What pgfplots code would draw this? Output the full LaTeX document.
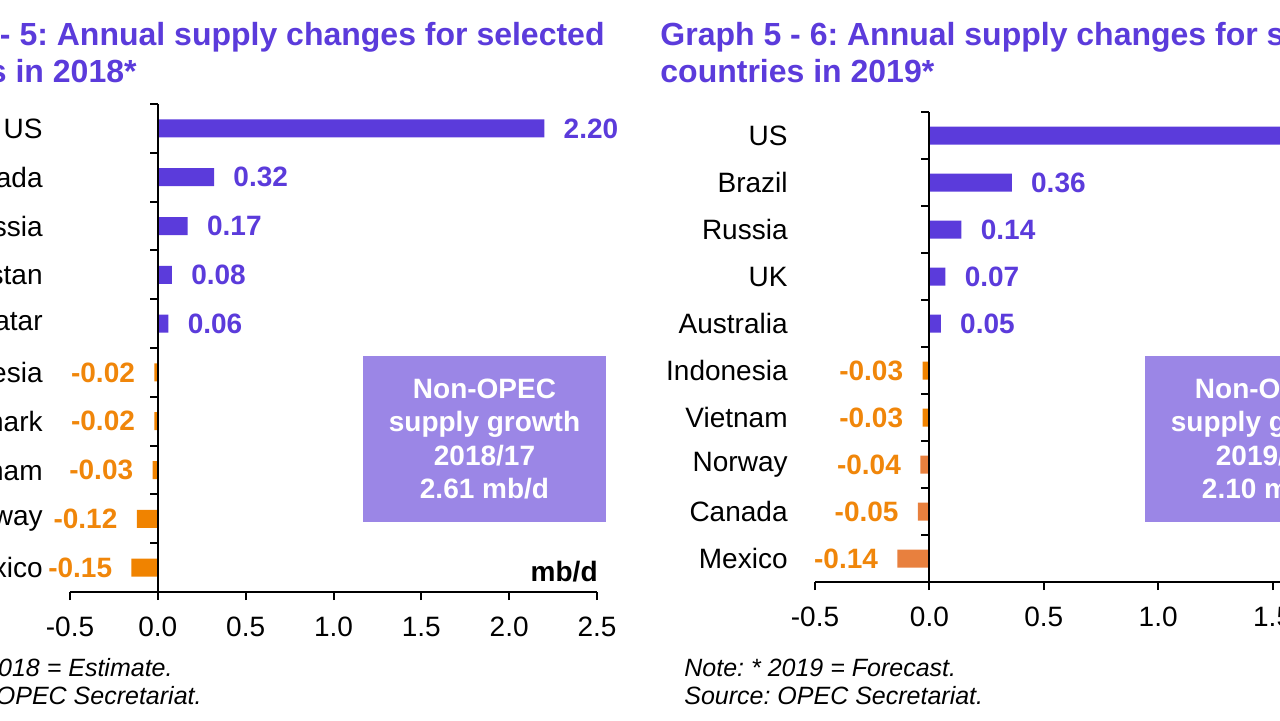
\documentclass[border=0pt]{standalone}
\usepackage{pgfplots}
\pgfplotsset{compat=1.18}
\usepackage{fontspec}
\setmainfont{Liberation Sans}
\frenchspacing
\definecolor{cpurple}{HTML}{5B3BDB}
\definecolor{corange}{HTML}{F08300}
\definecolor{csalmon}{HTML}{E8803E}
\definecolor{cbox}{HTML}{9B86E6}
\definecolor{ctxtorange}{HTML}{F0860A}
\newcommand{\tfont}{\fontsize{14}{16}\selectfont}
\pgfplotsset{
  mybar/.style={
    xbar, bar width=9pt, bar shift=0pt,
    scale only axis, clip=false, anchor=south west,
    axis x line*=bottom, axis y line*=left,
    y axis line style={draw=none},
    ytick style={draw=none},
    x axis line style={line width=1pt, -},
    xtick style={line width=1pt, black},
    tick align=outside, major tick length=4pt,
    y dir=reverse, ymin=-0.5, ymax=9.5, ytick={0,1,2,3,4,5,6,7,8,9},
    xmin=-0.5,
    /pgf/number format/assume math mode=true,
    xticklabel style={/pgf/number format/fixed, /pgf/number format/fixed zerofill, /pgf/number format/precision=1, inner sep=0pt, yshift=-8.5pt},
    yticklabel style={inner sep=0pt, xshift=-9.5pt},
    tick label style={font=\tfont},
  },
  pos/.style={fill=cpurple, draw=none,
    nodes near coords={\pgfmathprintnumber[fixed,fixed zerofill,precision=2]{\pgfplotspointmeta}},
    every node near coord/.append style={font=\bfseries\tfont, text=cpurple, anchor=west, inner sep=0pt, xshift=9.5pt}},
  neg/.style={fill=#1, draw=none,
    nodes near coords={\pgfmathprintnumber[fixed,fixed zerofill,precision=2]{\pgfplotspointmeta}},
    every node near coord/.append style={font=\bfseries\tfont, text=ctxtorange, anchor=east, inner sep=0pt, xshift=-9.5pt}},
}
\begin{document}
\begin{tikzpicture}
\useasboundingbox (0,0) rectangle (640pt,360pt);
\begin{scope}[overlay]
\clip (0,0) rectangle (640pt,360pt);
% ---------- left chart ----------
\begin{axis}[mybar, at={(35pt,64pt)}, width=263.5pt, height=244pt,
  xmax=2.5, xtick={-0.5,0,0.5,1,1.5,2,2.5},
  yticklabels={US,Canada,Russia,Kazakhstan,Qatar,Indonesia,Denmark,Vietnam,Norway,Mexico}]
\addplot[pos] coordinates {(2.20,0) (0.32,1) (0.17,2) (0.08,3) (0.06,4)};
\addplot[neg=corange] coordinates {(-0.02,5) (-0.02,6) (-0.03,7) (-0.12,8) (-0.15,9)};
\draw[line width=1pt] (axis cs:0,-0.5) -- (axis cs:0,9.5);
\pgfplotsinvokeforeach{-0.5,0.5,1.5,2.5,3.5,4.5,5.5,6.5,7.5,8.5}{\draw[line width=1pt] (axis cs:0,#1) -- ([xshift=-4pt]axis cs:0,#1);}
\end{axis}
% ---------- right chart ----------
\begin{axis}[mybar, at={(407.5pt,69pt)}, width=286pt, height=235pt,
  xmax=2.0, xtick={-0.5,0,0.5,1,1.5,2},
  yticklabels={US,Brazil,Russia,UK,Australia,Indonesia,Vietnam,Norway,Canada,Mexico}]
\addplot[pos] coordinates {(1.78,0) (0.36,1) (0.14,2) (0.07,3) (0.05,4)};
\addplot[neg=corange] coordinates {(-0.03,5) (-0.03,6)};
\addplot[neg=csalmon] coordinates {(-0.04,7) (-0.05,8) (-0.14,9)};
\draw[line width=1pt] (axis cs:0,-0.5) -- (axis cs:0,9.5);
\pgfplotsinvokeforeach{-0.5,0.5,1.5,2.5,3.5,4.5,5.5,6.5,7.5,8.5}{\draw[line width=1pt] (axis cs:0,#1) -- ([xshift=-4pt]axis cs:0,#1);}
\end{axis}
% ---------- titles ----------
\begin{scope}[every node/.style={inner sep=0pt, text=cpurple, font=\bfseries\fontsize{16}{19}\selectfont}]
\node[anchor=base east] at (302.5pt,337.5pt) {Graph 5 - 5: Annual supply changes for selected};
\node[anchor=base east] at (68.5pt,319pt) {countries in 2018*};
\node[anchor=base west] at (330pt,337.5pt) {Graph 5 - 6: Annual supply changes for selected};
\node[anchor=base west] at (330pt,319pt) {countries in 2019*};
\end{scope}
% ---------- boxes ----------
\fill[cbox] (181.5pt,99pt) rectangle ++(121.5pt,83pt);
\node[text=white, font=\bfseries\fontsize{14}{16.7}\selectfont, align=center] at (242.25pt,140.5pt) {Non-OPEC\\supply growth\\2018/17\\2.61 mb/d};
\fill[cbox] (572.5pt,99pt) rectangle ++(121.5pt,83pt);
\node[text=white, font=\bfseries\fontsize{14}{16.7}\selectfont, align=center] at (633.25pt,140.5pt) {Non-OPEC\\supply growth\\2019/18\\2.10 mb/d};
% ---------- unit ----------
\node[anchor=base east, inner sep=0pt, font=\bfseries\tfont] at (299pt,69.5pt) {mb/d};
% ---------- footnotes ----------
\begin{scope}[every node/.style={inner sep=0pt, font=\itshape\fontsize{12.5}{14}\selectfont}]
\node[anchor=base east] at (86.5pt,22pt) {Note: * 2018 = Estimate.};
\node[anchor=base east] at (101pt,8pt) {Source: OPEC Secretariat.};
\node[anchor=base west] at (342pt,22pt) {Note: * 2019 = Forecast.};
\node[anchor=base west] at (342pt,8pt) {Source: OPEC Secretariat.};
\end{scope}
\end{scope}
\end{tikzpicture}
\end{document}
